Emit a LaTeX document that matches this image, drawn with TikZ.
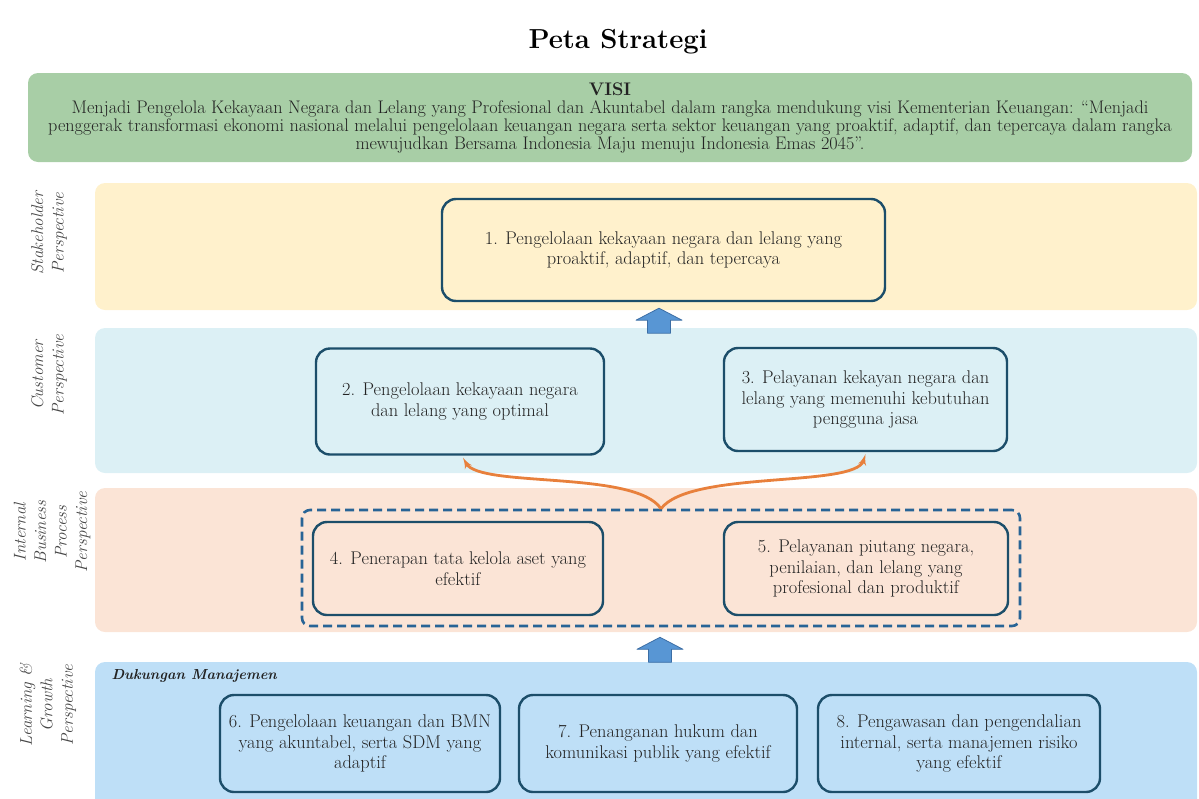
\documentclass[tikz,border=0pt]{standalone}
\usepackage{tikz}
\usetikzlibrary{shapes,arrows}
\usetikzlibrary{calc}
\usetikzlibrary{positioning}
\definecolor{visigreen}{RGB}{168,206,166}
\definecolor{stakefill}{RGB}{255,241,204}
\definecolor{custfill}{RGB}{220,240,245}
\definecolor{intfill}{RGB}{251,228,214}
\definecolor{learnfill}{RGB}{190,223,247}
\definecolor{goalline}{RGB}{28,78,106}
\definecolor{dashline}{RGB}{40,100,150}
\definecolor{arrowblue}{RGB}{88,150,212}
\definecolor{arrowline}{RGB}{60,110,165}
\definecolor{curveorange}{RGB}{232,128,60}
\definecolor{perspgray}{RGB}{70,70,70}
\definecolor{bodytext}{RGB}{35,35,35}
\tikzstyle{band} = [rounded corners=10pt, inner sep=0pt]
\tikzstyle{goal} = [draw=goalline, line width=2.4pt, rounded corners=14pt, text=bodytext,
    align=center, inner sep=0pt, font=\fontsize{18.4}{20.5}\selectfont]
\tikzstyle{persp} = [rotate=90, align=center, text=perspgray,
    font=\fontsize{17}{20.5}\selectfont\itshape]
\tikzstyle{blockup} = [draw=arrowline, fill=arrowblue, line width=0.8pt, line join=round]
\tikzstyle{branch} = [->, curveorange, line width=2.8pt]
\begin{document}
\begin{tikzpicture}[x=1pt, y=-1pt, >=latex']
  \useasboundingbox (0,0) rectangle (1199,798);
  \clip (0,0) rectangle (1199,798);

  % title and vision
  \node [font=\fontsize{27.5}{32}\selectfont\bfseries] (title) at (618,42) {Peta Strategi};
  \node [band, fill=visigreen, minimum width=1164pt, minimum height=89pt] (visi) at (610,117.5) {};
  \node [align=center, text=bodytext, font=\fontsize{18.2}{18}\selectfont] (visitext) at (visi.center)
    {\textbf{VISI}\\
     Menjadi Pengelola Kekayaan Negara dan Lelang yang Profesional dan Akuntabel dalam rangka mendukung visi Kementerian Keuangan: ``Menjadi\\
     penggerak transformasi ekonomi nasional melalui pengelolaan keuangan negara serta sektor keuangan yang proaktif, adaptif, dan tepercaya dalam rangka\\
     mewujudkan Bersama Indonesia Maju menuju Indonesia Emas 2045''.};

  % perspective bands
  \node [band, fill=stakefill, minimum width=1102pt, minimum height=127pt] (stake) at (646,246.5) {};
  \node [band, fill=custfill, minimum width=1102pt, minimum height=145pt] (cust) at (646,400.5) {};
  \node [band, fill=intfill, minimum width=1102pt, minimum height=144pt] (int) at (646,560) {};
  \node [band, fill=learnfill, minimum width=1102pt, minimum height=150pt] (learn) at (646,737) {};

  \node [persp] (stakelabel) at (49,233) {Stakeholder\\Perspective};
  \node [persp] (custlabel) at (49,375) {Customer\\Perspective};
  \node [persp] (intlabel) at (52,532) {Internal\\Business\\Process\\Perspective};
  \node [persp] (learnlabel) at (48,705) {Learning \&\\Growth\\Perspective};

  % objectives
  \node [goal, fill=stakefill, minimum width=443pt, minimum height=102pt] (g1) at (663.5,250)
    {1. Pengelolaan kekayaan negara dan lelang yang\\proaktif, adaptif, dan tepercaya};
  \node [goal, fill=custfill, minimum width=288pt, minimum height=106pt] (g2) at (460,401.5)
    {2. Pengelolaan kekayaan negara\\dan lelang yang optimal};
  \node [goal, fill=custfill, minimum width=283pt, minimum height=103pt] (g3) at (865.5,399.5)
    {3. Pelayanan kekayan negara dan\\lelang yang memenuhi kebutuhan\\pengguna jasa};
  \node [draw=dashline, line width=2.6pt, dash pattern=on 9pt off 5pt, rounded corners=8pt,
    minimum width=718pt, minimum height=116pt] (proc) at (661,568) {};
  \node [goal, fill=intfill, minimum width=290pt, minimum height=93pt] (g4) at (458,568.5)
    {4. Penerapan tata kelola aset yang\\efektif};
  \node [goal, fill=intfill, minimum width=284pt, minimum height=93pt] (g5) at (866,568.5)
    {5. Pelayanan piutang negara,\\penilaian, dan lelang yang\\profesional dan produktif};

  \node [font=\fontsize{14.5}{18}\selectfont\bfseries\itshape, text=bodytext, anchor=west] (dukungan) at (108,676)
    {Dukungan Manajemen};
  \node [goal, fill=learnfill, minimum width=280pt, minimum height=97pt] (g6) at (360,743.5)
    {6. Pengelolaan keuangan dan BMN\\yang akuntabel, serta SDM yang\\adaptif};
  \node [goal, fill=learnfill, minimum width=278pt, minimum height=97pt] (g7) at (658,743.5)
    {7. Penanganan hukum dan\\komunikasi publik yang efektif};
  \node [goal, fill=learnfill, minimum width=282pt, minimum height=97pt] (g8) at (959,743.5)
    {8. Pengawasan dan pengendalian\\internal, serta manajemen risiko\\yang efektif};

  % links
  \coordinate (up1) at ($(g1.south)+(-4.5,18.5)$);
  \coordinate (up2) at ($(proc.south)+(-1,22.5)$);
  \draw [blockup] ($(up1)+(-11.5,12.5)$) -- ++(0,-13) -- ++(-11.5,0) -- ++(23,-12)
    -- ++(23,12) -- ++(-11.5,0) -- ++(0,13) -- cycle;
  \draw [blockup] ($(up2)+(-11.5,12.5)$) -- ++(0,-13) -- ++(-11.5,0) -- ++(23,-12)
    -- ++(23,12) -- ++(-11.5,0) -- ++(0,13) -- cycle;
  \draw [branch] (proc.north) .. controls (635,470) and (480,488) .. ($(g2.south)+(3,2)$);
  \draw [branch] (proc.north) .. controls (690,470) and (855,488) .. ($(g3.south)+(0,2)$);
\end{tikzpicture}
\end{document}
